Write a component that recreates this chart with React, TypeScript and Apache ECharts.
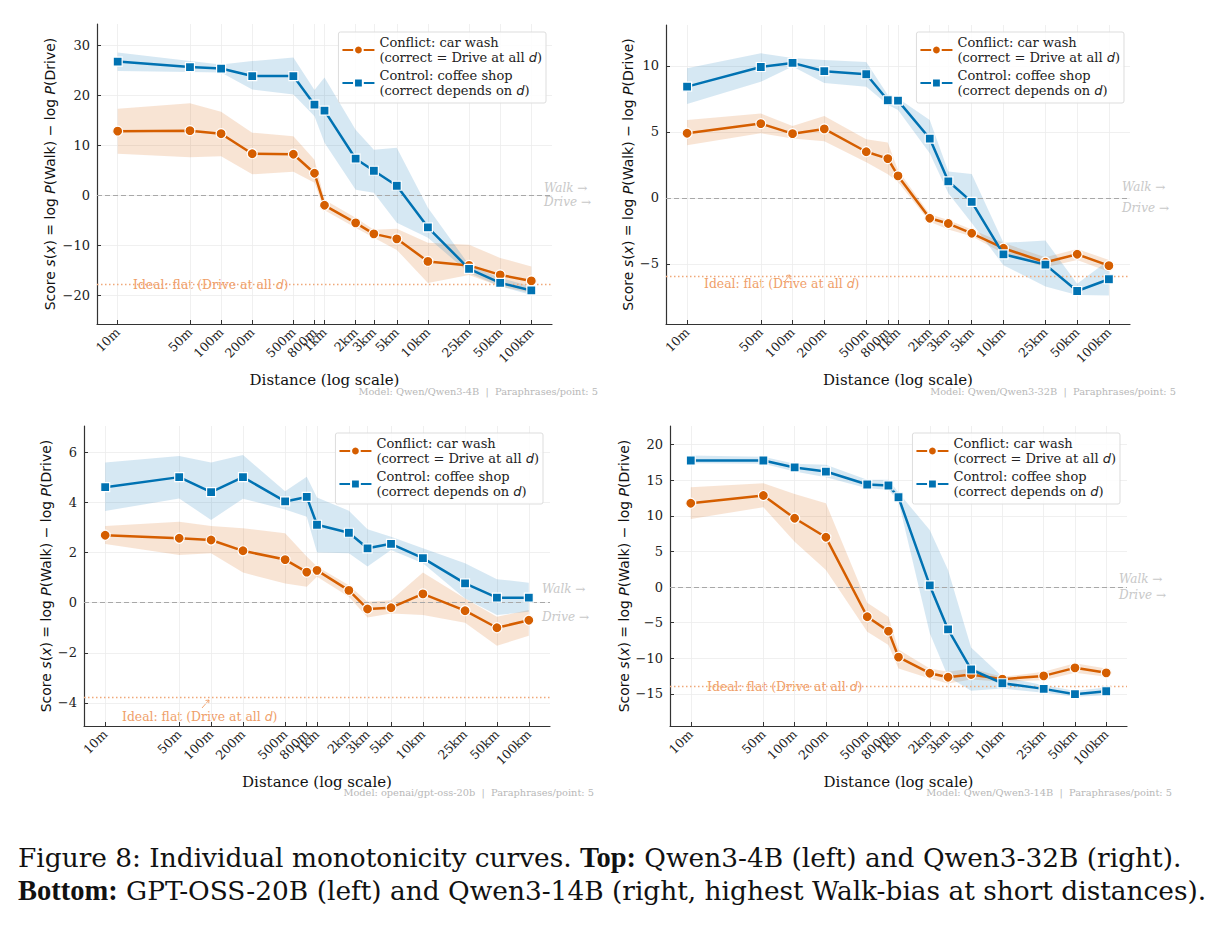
import React, { useEffect, useRef } from "react";
import * as echarts from "echarts";

// ---------- data ----------
const distances = [10, 50, 100, 200, 500, 800, 1000, 2000, 3000, 5000, 10000, 25000, 50000, 100000];
const distanceLabels = ["10m", "50m", "100m", "200m", "500m", "800m", "1km", "2km", "3km", "5km", "10km", "25km", "50km", "100km"];

const CONFLICT = "Conflict: car wash\n(correct = Drive at all d)";
const CONTROL = "Control: coffee shop\n(correct depends on d)";

// Qwen3-4B
const q4ConflictMean = [12.8, 12.9, 12.3, 8.3, 8.2, 4.4, -2.0, -5.5, -7.7, -8.7, -13.2, -14.0, -15.9, -17.1];
const q4ConflictLo = [8.3, 7.6, 7.8, 4.2, 4.7, 2.5, -3.0, -6.5, -8.5, -10.9, -17.5, -15.9, -18.2, -19.5];
const q4ConflictHi = [17.3, 18.4, 16.7, 12.5, 11.8, 7.1, -0.9, -4.5, -6.9, -6.7, -9.5, -9.9, -12.5, -14.2];
const q4ControlMean = [26.7, 25.6, 25.3, 23.8, 23.8, 18.1, 16.9, 7.3, 4.9, 1.9, -6.4, -14.7, -17.5, -19.0];
const q4ControlLo = [24.8, 24.6, 24.5, 21.1, 20.1, 15.8, 10.5, 1.1, 0.5, -5.5, -8.5, -15.5, -18.2, -19.9];
const q4ControlHi = [28.5, 26.8, 26.1, 26.8, 27.5, 21.0, 23.5, 13.1, 9.1, 9.5, -2.5, -13.9, -16.5, -18.2];

// Qwen3-32B
const q32ConflictMean = [4.9, 5.63, 4.87, 5.23, 3.5, 2.98, 1.67, -1.54, -1.94, -2.68, -3.81, -4.87, -4.27, -5.13];
const q32ConflictLo = [4.0, 4.9, 4.5, 4.3, 2.7, 1.8, 1.2, -1.8, -2.4, -2.9, -4.2, -5.25, -4.7, -5.6];
const q32ConflictHi = [5.9, 6.4, 5.45, 6.2, 4.45, 4.2, 2.1, -1.24, -1.67, -2.4, -3.4, -4.5, -3.86, -4.7];
const q32ControlMean = [8.43, 9.92, 10.23, 9.6, 9.37, 7.4, 7.37, 4.5, 1.26, -0.3, -4.27, -5.05, -7.05, -6.16];
const q32ControlLo = [7.12, 8.8, 9.95, 8.7, 8.43, 7.05, 6.67, 3.38, 0.35, -1.9, -5.1, -6.7, -7.35, -7.4];
const q32ControlHi = [9.82, 10.96, 10.6, 10.45, 10.3, 7.8, 7.55, 5.9, 2.0, 1.82, -3.4, -3.23, -6.5, -4.7];

// gpt-oss-20b
const gptConflictMean = [2.69, 2.57, 2.5, 2.07, 1.72, 1.22, 1.29, 0.49, -0.25, -0.2, 0.35, -0.32, -1.0, -0.7];
const gptConflictLo = [2.34, 1.9, 1.97, 1.2, 0.77, 0.64, 1.04, 0.24, -0.59, -0.43, -0.49, -0.8, -1.72, -1.32];
const gptConflictHi = [3.06, 3.23, 3.06, 2.97, 2.77, 1.84, 1.44, 0.7, 0.04, 0.1, 1.2, 0.17, -0.56, -0.29];
const gptControlMean = [4.61, 5.01, 4.41, 5.01, 4.04, 4.22, 3.11, 2.79, 2.17, 2.35, 1.78, 0.77, 0.2, 0.2];
const gptControlLo = [3.66, 4.16, 3.3, 4.15, 3.72, 3.43, 2.0, 1.97, 1.44, 2.1, 1.57, 0.17, -0.49, -0.36];
const gptControlHi = [5.59, 5.85, 5.59, 5.89, 4.45, 5.03, 4.2, 3.67, 2.93, 2.63, 2.17, 1.57, 0.94, 0.8];

// Qwen3-14B
const q14ConflictMean = [11.76, 12.84, 9.65, 6.98, -4.17, -6.19, -9.84, -12.09, -12.65, -12.28, -12.93, -12.47, -11.34, -12.04];
const q14ConflictLo = [9.56, 11.2, 6.37, 2.39, -6.28, -8.15, -11.43, -12.84, -13.54, -12.98, -13.3, -13.07, -12.04, -12.6];
const q14ConflictHi = [14.0, 14.57, 13.07, 11.76, -2.2, -4.17, -8.76, -11.43, -11.9, -11.43, -12.6, -11.9, -10.7, -11.43];
const q14ControlMean = [17.76, 17.76, 16.78, 16.21, 14.39, 14.25, 12.6, 0.23, -5.95, -11.57, -13.5, -14.29, -15.04, -14.62];
const q14ControlLo = [17.38, 17.3, 16.2, 15.4, 13.87, 13.64, 12.0, -6.5, -12.6, -14.57, -14.25, -14.85, -15.4, -15.2];
const q14ControlHi = [18.46, 18.3, 17.3, 17.15, 15.04, 15.04, 13.26, 8.0, 2.39, -8.48, -12.6, -13.78, -14.57, -14.1];

const yTicksQ4 = [-20, -10, 0, 10, 20, 30];
const yTicksQ32 = [-5, 0, 5, 10];
const yTicksGpt = [-4, -2, 0, 2, 4, 6];
const yTicksQ14 = [-15, -10, -5, 0, 5, 10, 15, 20];

const idealLevels = [-17.8, -5.9, -3.78, -13.87];
const modelNames = ["Qwen/Qwen3-4B", "Qwen/Qwen3-32B", "openai/gpt-oss-20b", "Qwen/Qwen3-14B"];
const paraphrasesPerPoint = 5;

// ---------- layout ----------
const ORANGE = "#d55e00";
const BLUE = "#0072b2";
const IDEAL = "#ef9e68";
const SERIF = "'DejaVu Serif', serif";
const SANS = "'DejaVu Sans', sans-serif";

const panels = [
  {
    grid: { left: 97, top: 24, width: 455, height: 300 },
    yRange: [-25.7, 34.2], yTicks: yTicksQ4, nameGap: 40, walkLH: 14,
    conflict: [q4ConflictMean, q4ConflictLo, q4ConflictHi],
    control: [q4ControlMean, q4ControlLo, q4ControlHi],
    ideal: idealLevels[0], idealText: [133, 286], arrow: null as null | number[],
    model: modelNames[0], modelPos: [598, 392],
    legend: { right: 1224 - 546, top: 32 },
  },
  {
    grid: { left: 666, top: 25, width: 464, height: 299 },
    yRange: [-9.55, 13.1], yTicks: yTicksQ32, nameGap: 31, walkLH: 21,
    conflict: [q32ConflictMean, q32ConflictLo, q32ConflictHi],
    control: [q32ControlMean, q32ControlLo, q32ControlHi],
    ideal: idealLevels[1], idealText: [704, 285], arrow: [785, 281, 790, 275],
    model: modelNames[1], modelPos: [1176, 392],
    legend: { right: 1224 - 1124, top: 32 },
  },
  {
    grid: { left: 84, top: 426, width: 466, height: 300 },
    yRange: [-4.92, 7.05], yTicks: yTicksGpt, nameGap: 31, walkLH: 28,
    conflict: [gptConflictMean, gptConflictLo, gptConflictHi],
    control: [gptControlMean, gptControlLo, gptControlHi],
    ideal: idealLevels[2], idealText: [122, 718], arrow: [202, 708, 209, 700],
    model: modelNames[2], modelPos: [594, 793],
    legend: { right: 1224 - 543, top: 433 },
  },
  {
    grid: { left: 670, top: 426, width: 457, height: 300 },
    yRange: [-19.5, 22.6], yTicks: yTicksQ14, nameGap: 39, walkLH: 16,
    conflict: [q14ConflictMean, q14ConflictLo, q14ConflictHi],
    control: [q14ControlMean, q14ControlLo, q14ControlHi],
    ideal: idealLevels[3], idealText: [707, 688], arrow: null as null | number[],
    model: modelNames[3], modelPos: [1172, 793],
    legend: { right: 1224 - 1120, top: 433 },
  },
];

const logX = distances.map((d) => Math.log10(d));
const fmtNum = (v: number) => (v < 0 ? "\u2212" + Math.abs(v) : String(v));

function bandSeries(idx: number, lo: number[], hi: number[], fill: string) {
  const rows = logX.map((x, k) => [x, lo[k], hi[k]]);
  return {
    type: "custom",
    xAxisIndex: idx,
    yAxisIndex: idx,
    silent: true,
    z: 1,
    data: rows,
    encode: { x: 0, y: [1, 2] },
    renderItem: (params: any, api: any) => {
      if (params.dataIndex !== 0) return null;
      const top = rows.map((r) => api.coord([r[0], r[2]]));
      const bot = rows.map((r) => api.coord([r[0], r[1]])).reverse();
      return { type: "polygon", shape: { points: top.concat(bot) }, style: { fill } };
    },
  };
}

function buildOption() {
  const grid: any[] = [];
  const xAxis: any[] = [];
  const yAxis: any[] = [];
  const series: any[] = [];
  const legend: any[] = [];
  const graphic: any[] = [];

  panels.forEach((p, i) => {
    grid.push({ ...p.grid, containLabel: false });
    xAxis.push({
      type: "value",
      gridIndex: i,
      min: 0.8,
      max: 5.2,
      name: "Distance (log scale)",
      nameLocation: "middle",
      nameGap: 48,
      nameTextStyle: { fontFamily: SERIF, fontSize: 15, color: "#111" },
      axisLine: { show: true, onZero: false, lineStyle: { color: "#333", width: 1.2 } },
      axisTick: { show: true, inside: true, length: 4, customValues: logX, lineStyle: { color: "#333", width: 1 } },
      axisLabel: {
        customValues: logX,
        rotate: 45,
        fontFamily: SERIF,
        fontSize: 12.5,
        color: "#222",
        margin: 6,
        formatter: (v: number) => {
          let best = 0;
          logX.forEach((x, k) => { if (Math.abs(x - v) < Math.abs(logX[best] - v)) best = k; });
          return distanceLabels[best];
        },
      },
      splitLine: { show: true, lineStyle: { color: "#ececec", width: 0.8 } },
    });
    yAxis.push({
      type: "value",
      gridIndex: i,
      min: p.yRange[0],
      max: p.yRange[1],
      name:
        "{n|Score }{i|s}{n|(}{i|x}{n|) = log }{i|P}{n|(Walk) \u2212 log }{i|P}{n|(Drive)}",
      nameLocation: "middle",
      nameRotate: 90,
      nameGap: p.nameGap,
      nameTextStyle: {
        color: "#111",
        rich: {
          n: { fontFamily: SANS, fontSize: 14, color: "#111" },
          i: { fontFamily: SANS, fontSize: 14, fontStyle: "italic", color: "#111" },
        },
      },
      axisLine: { show: true, onZero: false, lineStyle: { color: "#333", width: 1.2 } },
      axisTick: { show: true, inside: true, length: 4, customValues: p.yTicks, lineStyle: { color: "#333", width: 1 } },
      axisLabel: { customValues: p.yTicks, fontFamily: SERIF, fontSize: 13, color: "#222", margin: 7, formatter: fmtNum },
      splitLine: { show: true, lineStyle: { color: "#ececec", width: 0.8 } },
    });

    series.push(bandSeries(i, p.conflict[1], p.conflict[2], "rgba(213,94,0,0.17)"));
    series.push(bandSeries(i, p.control[1], p.control[2], "rgba(0,114,178,0.16)"));

    series.push({
      type: "line",
      name: CONFLICT,
      xAxisIndex: i,
      yAxisIndex: i,
      z: 5,
      data: logX.map((x, k) => [x, p.conflict[0][k]]),
      symbol: "circle",
      symbolSize: 10,
      lineStyle: { color: ORANGE, width: 2.5 },
      itemStyle: { color: ORANGE, borderColor: "#fff", borderWidth: 1.2 },
      markLine: {
        silent: true,
        symbol: "none",
        z: 2,
        data: [
          {
            yAxis: 0,
            lineStyle: { type: [5, 3], color: "#a8a8a8", width: 1 },
            label: {
              show: true,
              position: "end",
              distance: -8,
              formatter: "{w|Walk \u2192}\n{w|Drive \u2192}",
              rich: {
                w: { fontFamily: SERIF, fontStyle: "italic", fontSize: 12, color: "#c8c8c8", lineHeight: p.walkLH, align: "left" },
              },
            },
          },
          {
            yAxis: p.ideal,
            lineStyle: { type: [1.5, 2.5], color: "#f0a878", width: 1.3 },
            label: { show: false },
          },
        ],
      },
    });
    series.push({
      type: "line",
      name: CONTROL,
      xAxisIndex: i,
      yAxisIndex: i,
      z: 6,
      data: logX.map((x, k) => [x, p.control[0][k]]),
      symbol: "rect",
      symbolSize: 9,
      lineStyle: { color: BLUE, width: 2.5 },
      itemStyle: { color: BLUE, borderColor: "#fff", borderWidth: 1.2 },
    });

    legend.push({
      orient: "vertical",
      right: p.legend.right,
      top: p.legend.top,
      selectedMode: false,
      data: [CONFLICT, CONTROL],
      itemWidth: 32,
      itemHeight: 11,
      itemGap: 5,
      padding: [4, 4, 6, 3],
      backgroundColor: "rgba(255,255,255,0.85)",
      borderColor: "#dddddd",
      borderWidth: 1,
      borderRadius: 2,
      formatter: (name: string) =>
        name === CONFLICT
          ? "{n|Conflict: car wash}\n{n|(correct = Drive at all }{i|d}{n|)}"
          : "{n|Control: coffee shop}\n{n|(correct depends on }{i|d}{n|)}",
      textStyle: {
        rich: {
          n: { fontFamily: SERIF, fontSize: 13, color: "#222", lineHeight: 15 },
          i: { fontFamily: SANS, fontSize: 13, fontStyle: "italic", color: "#222", lineHeight: 15 },
        },
      },
    });

    graphic.push({
      type: "text",
      left: p.idealText[0],
      top: p.idealText[1] - 8,
      silent: true,
      style: {
        text: "{n|Ideal: flat (Drive at all }{i|d}{n|)}",
        rich: {
          n: { fontFamily: SERIF, fontSize: 12.4, fill: IDEAL },
          i: { fontFamily: SANS, fontSize: 12.4, fontStyle: "italic", fill: IDEAL },
        },
      },
    });
    if (p.arrow) {
      const [x1, y1, x2, y2] = p.arrow;
      graphic.push({
        type: "line",
        silent: true,
        shape: { x1, y1, x2, y2 },
        style: { stroke: IDEAL, lineWidth: 0.9 },
      });
      graphic.push({
        type: "polyline",
        silent: true,
        shape: { points: [[x2 - 3.5, y2 + 0.5], [x2, y2], [x2 - 0.3, y2 + 3.5]] },
        style: { stroke: IDEAL, lineWidth: 0.9, fill: "none" },
      });
    }
    graphic.push({
      type: "text",
      right: 1224 - p.modelPos[0],
      top: p.modelPos[1] - 6,
      silent: true,
      style: {
        text: "Model: " + p.model + "  |  Paraphrases/point: " + paraphrasesPerPoint,
        fontFamily: SERIF,
        fontSize: 9.8,
        fill: "#b8b8b8",
      },
    });
  });

  graphic.push({
    type: "text",
    left: 18,
    top: 843,
    silent: true,
    style: {
      text:
        "{n|Figure 8: Individual monotonicity curves. }{b|Top:}{n| Qwen3-4B (left) and Qwen3-32B (right).}\n" +
        "{b|Bottom:}{n| GPT-OSS-20B (left) and Qwen3-14B (right, highest Walk-bias at short distances).}",
      rich: {
        n: { fontFamily: SERIF, fontSize: 26.4, fill: "#111", lineHeight: 33 },
        b: { fontFamily: "'Liberation Serif', serif", fontSize: 28.5, fontWeight: "bold", fill: "#111", lineHeight: 33 },
      },
    },
  });

  return { animation: false, backgroundColor: "#ffffff", grid, xAxis, yAxis, series, legend, graphic };
}

export default function App() {
  const ref = useRef<HTMLDivElement>(null);
  useEffect(() => {
    if (!ref.current) return;
    const chart = echarts.init(ref.current, undefined, { renderer: "svg" });
    chart.setOption(buildOption() as any);
    return () => chart.dispose();
  }, []);
  return <div ref={ref} style={{ position: "absolute", left: 0, top: 0, width: 1224, height: 926 }} />;
}
